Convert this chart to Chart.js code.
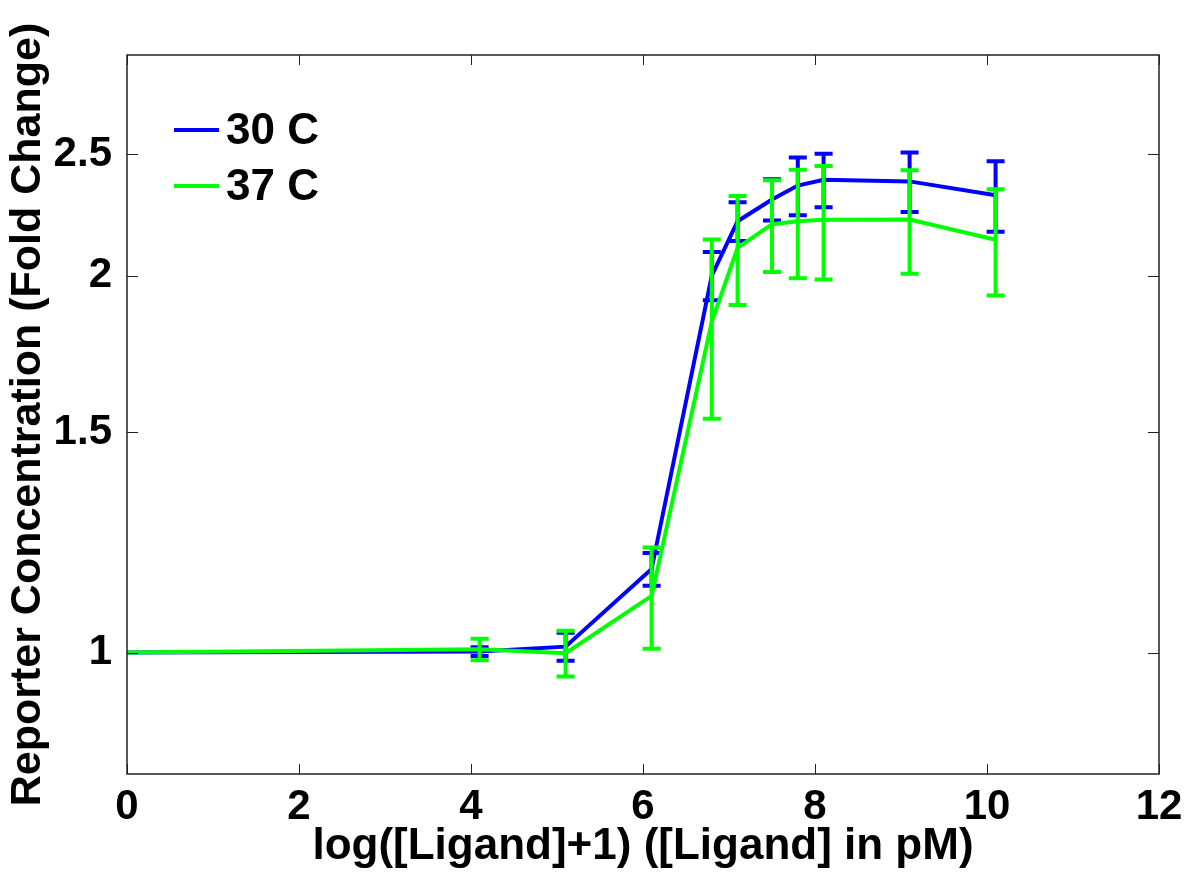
<!DOCTYPE html>
<html>
<head>
<meta charset="utf-8">
<script src="https://cdn.jsdelivr.net/npm/chart.js@4"></script>
<style>
  body { margin: 0; background: #fff; }
  canvas { display: block; }
</style>
</head>
<body>
<canvas id="chart" width="1189" height="873"></canvas>
<script>
const logLigand = [0, 4.1, 5.1, 6.1, 6.8, 7.1, 7.5, 7.8, 8.1, 9.1, 10.1]
const fold30 = [1.0, 1.002, 1.011, 1.166, 2.0, 2.21, 2.30, 2.36, 2.385, 2.378, 2.318]
const err30 = [0, 0.008, 0.026, 0.035, 0.089, 0.079, 0.087, 0.125, 0.117, 0.13, 0.15]
const fold37 = [1.0, 1.006, 0.999, 1.11, 1.837, 2.105, 2.198, 2.21, 2.216, 2.217, 2.136]
const err37 = [0, 0.02, 0.042, 0.103, 0.30, 0.21, 0.185, 0.22, 0.23, 0.21, 0.208]

const xTicks = [0, 2, 4, 6, 8, 10, 12]
const yTicks = [1, 1.5, 2, 2.5]
const labels = ['30 C', '37 C']
const colors = ['#0000ff', '#00ff00']
const errs = [err30, err37]

const font = 'Arial, "Liberation Sans", sans-serif'

const toPoints = (vals) => logLigand.map((x, i) => ({ x: x, y: vals[i] }))

// vertical error bars with caps, drawn right after each line
const errorBars = {
    id: 'errorBars',
    afterDatasetDraw(chart, args) {
        const e = errs[args.index]
        if (!e) return
        const ctx = chart.ctx
        const xs = chart.scales.x
        const ys = chart.scales.y
        const data = chart.data.datasets[args.index].data
        ctx.save()
        ctx.strokeStyle = colors[args.index]
        ctx.lineWidth = 4
        ctx.lineCap = 'butt'
        data.forEach((p, i) => {
            if (!e[i]) return
            const px = xs.getPixelForValue(p.x)
            const top = ys.getPixelForValue(p.y + e[i])
            const bot = ys.getPixelForValue(p.y - e[i])
            ctx.beginPath()
            ctx.moveTo(px, top)
            ctx.lineTo(px, bot)
            ctx.moveTo(px - 9, top)
            ctx.lineTo(px + 9, top)
            ctx.moveTo(px - 9, bot)
            ctx.lineTo(px + 9, bot)
            ctx.stroke()
        })
        ctx.restore()
    }
}

// box, inward ticks on all sides, legend in the top left corner
const frame = {
    id: 'frame',
    afterDraw(chart) {
        const ctx = chart.ctx
        const a = chart.chartArea
        const xs = chart.scales.x
        const ys = chart.scales.y
        ctx.save()
        ctx.strokeStyle = '#222'
        ctx.lineWidth = 1.5
        ctx.strokeRect(a.left, a.top, a.right - a.left, a.bottom - a.top)
        ctx.beginPath()
        xTicks.forEach(v => {
            const px = Math.round(xs.getPixelForValue(v)) + 0.5
            ctx.moveTo(px, a.bottom)
            ctx.lineTo(px, a.bottom - 10)
            ctx.moveTo(px, a.top)
            ctx.lineTo(px, a.top + 10)
        })
        yTicks.forEach(v => {
            const py = Math.round(ys.getPixelForValue(v)) + 0.5
            ctx.moveTo(a.left, py)
            ctx.lineTo(a.left + 11, py)
            ctx.moveTo(a.right, py)
            ctx.lineTo(a.right - 11, py)
        })
        ctx.lineWidth = 1
        ctx.stroke()

        ctx.font = 'bold 44px ' + font
        ctx.textBaseline = 'middle'
        ctx.fillStyle = '#000'
        labels.forEach((t, i) => {
            const y = 130 + i * 56
            ctx.strokeStyle = colors[i]
            ctx.lineWidth = 4
            ctx.beginPath()
            ctx.moveTo(174, y)
            ctx.lineTo(219, y)
            ctx.stroke()
            ctx.fillText(t, 226, y + 2)
        })
        ctx.restore()
    }
}

new Chart(document.getElementById('chart'), {
    type: 'line',
    data: {
        datasets: [
            {
                label: labels[0],
                data: toPoints(fold30),
                borderColor: colors[0],
                borderWidth: 4,
                pointRadius: 0,
                tension: 0,
                order: 1
            },
            {
                label: labels[1],
                data: toPoints(fold37),
                borderColor: colors[1],
                borderWidth: 4,
                pointRadius: 0,
                tension: 0,
                order: 0
            }
        ]
    },
    options: {
        responsive: false,
        animation: false,
        layout: { padding: { left: 0, top: 55, right: 30, bottom: 0 } },
        plugins: {
            legend: { display: false },
            tooltip: { enabled: false }
        },
        scales: {
            x: {
                type: 'linear',
                min: 0,
                max: 12,
                grid: { display: false },
                border: { display: false },
                afterBuildTicks: (s) => { s.ticks = xTicks.map(v => ({ value: v })) },
                afterFit: (s) => { s.height = 99 },
                ticks: {
                    autoSkip: false,
                    maxRotation: 0,
                    padding: 0,
                    color: '#000',
                    font: { family: font, size: 42, weight: 'bold' }
                },
                title: {
                    display: true,
                    text: 'log([Ligand]+1) ([Ligand] in pM)',
                    color: '#000',
                    padding: { top: 0, bottom: 0 },
                    font: { family: font, size: 44, weight: 'bold' }
                }
            },
            y: {
                type: 'logarithmic',
                min: 0.8,
                max: 3,
                grid: { display: false },
                border: { display: false },
                afterBuildTicks: (s) => { s.ticks = yTicks.map(v => ({ value: v })) },
                afterFit: (s) => { s.width = 127 },
                ticks: {
                    autoSkip: false,
                    padding: 7,
                    color: '#000',
                    font: { family: font, size: 42, weight: 'bold' },
                    callback: (v) => String(v)
                },
                title: {
                    display: true,
                    text: 'Reporter Concentration (Fold Change)',
                    color: '#000',
                    padding: { top: 2, bottom: 0 },
                    font: { family: font, size: 43, weight: 'bold' }
                }
            }
        }
    },
    plugins: [errorBars, frame]
})
</script>
</body>
</html>
